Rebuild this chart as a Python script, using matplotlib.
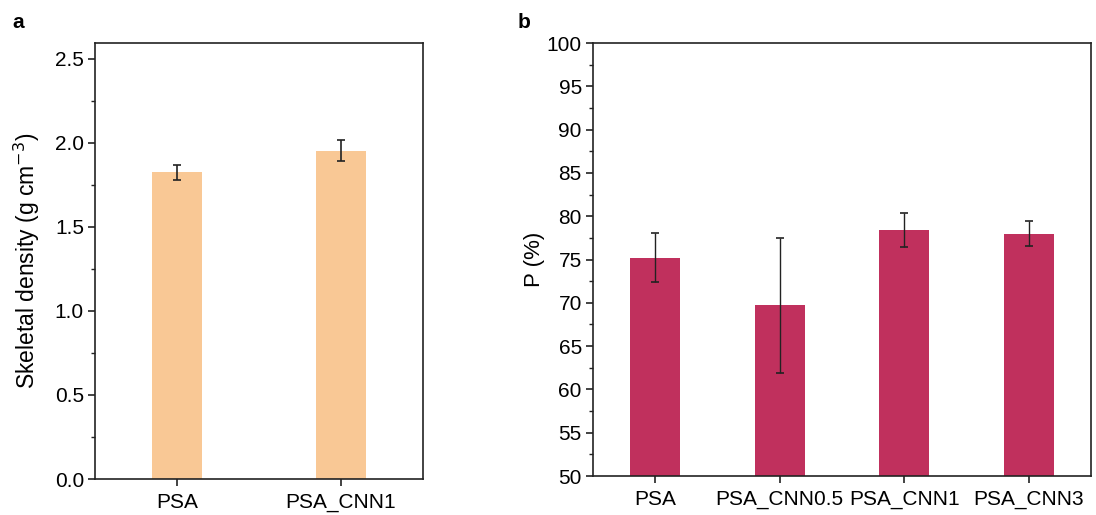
import matplotlib
matplotlib.use("Agg")
import matplotlib.pyplot as plt
from matplotlib.ticker import MultipleLocator

plt.rcParams['font.family'] = ['Liberation Sans', 'DejaVu Sans']

cats_a = ["PSA", "PSA_CNN1"]
dens = [1.825, 1.955]
dens_err = [0.043, 0.063]

cats_b = ["PSA", "PSA_CNN0.5", "PSA_CNN1", "PSA_CNN3"]
poro = [75.2, 69.7, 78.4, 78.0]
poro_err = [2.85, 7.8, 2.0, 1.4]

col_a = "#F9C895"
col_b = "#C0305D"

fig = plt.figure(figsize=(10.96, 5.15), dpi=100)
axa = fig.add_axes([0.0867, 0.0699, 0.2993, 0.8466])
axb = fig.add_axes([0.541, 0.0757, 0.4544, 0.8408])

def style(ax):
    for s in ax.spines.values():
        s.set_linewidth(1.2)
        s.set_color("#222222")
    ax.tick_params(axis='both', which='major', direction='out', length=5, width=1.2,
                   labelsize=15, color="#222222", pad=3)
    ax.tick_params(axis='x', which='major', pad=5)
    ax.tick_params(axis='y', which='minor', direction='out', length=3, width=1.0, color="#222222")
    ax.tick_params(axis='x', which='minor', bottom=False)

xa = list(range(len(cats_a)))
axa.bar(xa, dens, width=0.3, color=col_a, yerr=dens_err, capsize=3.2,
        error_kw=dict(ecolor="#222222", elinewidth=1.2, capthick=1.2))
axa.set_xlim(-0.5, 1.5)
axa.set_ylim(0, 2.595)
axa.set_xticks(xa)
axa.set_xticklabels(cats_a)
axa.yaxis.set_major_locator(MultipleLocator(0.5))
axa.yaxis.set_minor_locator(MultipleLocator(0.25))
axa.yaxis.set_major_formatter(matplotlib.ticker.FormatStrFormatter('%.1f'))
axa.set_ylabel(r"Skeletal density (g cm$^{-3}$)", fontsize=16.5, labelpad=9)
style(axa)

xb = list(range(len(cats_b)))
axb.bar(xb, poro, width=0.4, color=col_b, yerr=poro_err, capsize=3,
        error_kw=dict(ecolor="#222222", elinewidth=1.0, capthick=1.2))
axb.set_xlim(-0.5, 3.5)
axb.set_ylim(50, 100)
axb.set_xticks(xb)
axb.set_xticklabels(cats_b)
axb.yaxis.set_major_locator(MultipleLocator(5))
axb.yaxis.set_minor_locator(MultipleLocator(2.5))
axb.set_ylabel("P (%)", fontsize=16, labelpad=1)
style(axb)

fig.text(0.011, 0.945, "a", fontsize=15, fontweight='bold')
fig.text(0.472, 0.945, "b", fontsize=15, fontweight='bold')

fig.savefig("out.png", dpi=100)
